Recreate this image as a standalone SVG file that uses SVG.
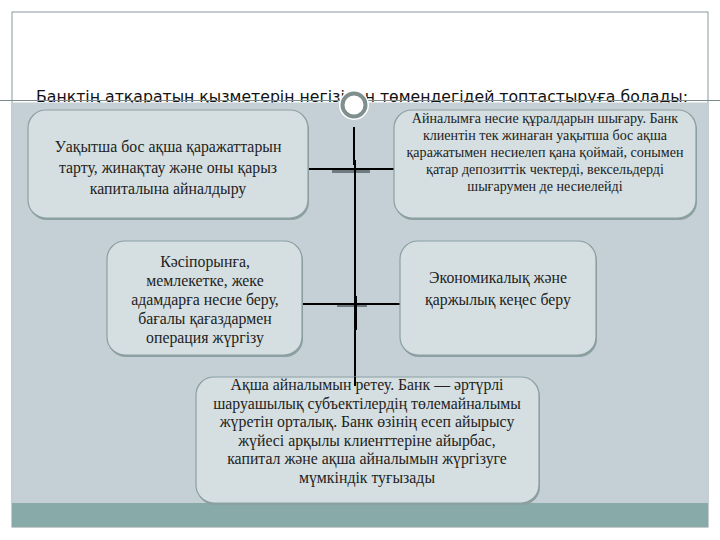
<svg xmlns="http://www.w3.org/2000/svg" width="720" height="540" viewBox="0 0 720 540">
<style>
.box{fill:#d5dfe1;stroke:#8b9fa2;stroke-width:1.2}
.sh{fill:#8c9fa1}
.t{font-family:"Liberation Serif","DejaVu Serif",serif;fill:#222;text-anchor:middle}
.conn{stroke:#000;stroke-width:2;fill:none}
</style>
<rect x="0" y="0" width="720" height="540" fill="#ffffff"/>
<rect x="12" y="12" width="696" height="515" fill="#ffffff" stroke="#8c9a9c" stroke-width="1"/>
<text x="36" y="101.5" font-family="DejaVu Sans, Verdana, sans-serif" font-size="15" fill="#111" textLength="652" lengthAdjust="spacingAndGlyphs">Банктің атқаратын қызметерін негізінен төмендегідей топтастыруға болады:</text>
<rect x="12.5" y="102.5" width="695.5" height="400.5" fill="#c5d0d6"/>
<rect x="12" y="503" width="696" height="24" fill="#88aaa8"/>
<line x1="0" y1="100.5" x2="720" y2="100.5" stroke="#7d8b8d" stroke-width="1"/>
<g id="ring">
<circle cx="354" cy="105" r="15" fill="#ffffff"/>
<circle cx="354" cy="105" r="11.5" fill="none" stroke="#7f8f8e" stroke-width="4"/>
</g>
<g id="connectors">
<rect x="332" y="169" width="38" height="4" fill="#6f7a7e"/>
<rect x="337" y="303" width="30" height="4" fill="#6f7a7e"/>
<line class="conn" x1="354" y1="127" x2="354" y2="165"/>
<line class="conn" x1="355" y1="160" x2="355" y2="386"/>
<line class="conn" x1="309" y1="169" x2="394" y2="169"/>
<line class="conn" x1="303" y1="304" x2="400" y2="304"/>
<line x1="355.5" y1="296" x2="355.5" y2="330" stroke="#000" stroke-width="3"/>
</g>
<g id="node1">
<rect class="sh" x="29" y="112" width="280" height="108" rx="18"/>
<rect class="box" x="28" y="110" width="280" height="108" rx="18"/>
<text class="t" font-size="15.8"><tspan x="168" y="152">Уақытша бос ақша қаражаттарын</tspan><tspan x="168" y="173">тарту, жинақтау және оны қарыз</tspan><tspan x="168" y="194">капиталына айналдыру</tspan></text>
</g>
<g id="node2">
<rect class="sh" x="395" y="112" width="302" height="108" rx="18"/>
<rect class="box" x="394" y="110" width="302" height="108" rx="18"/>
<text class="t" font-size="14.1"><tspan x="545" y="123">Айналымға несие құралдарын шығару. Банк</tspan><tspan x="545" y="140">клиентін тек жинаған уақытша бос ақша</tspan><tspan x="545" y="157">қаражатымен несиелеп қана қоймай, сонымен</tspan><tspan x="545" y="174">қатар депозиттік чектерді, вексельдерді</tspan><tspan x="545" y="191">шығарумен де несиелейді</tspan></text>
</g>
<g id="node3">
<rect class="sh" x="108" y="243" width="195" height="114" rx="18"/>
<rect class="box" x="107" y="241" width="195" height="114" rx="18"/>
<text class="t" font-size="15.8"><tspan x="205" y="267">Кәсіпорынға,</tspan><tspan x="205" y="286">мемлекетке, жеке</tspan><tspan x="205" y="305">адамдарға несие беру,</tspan><tspan x="205" y="324">бағалы қағаздармен</tspan><tspan x="205" y="343">операция жүргізу</tspan></text>
</g>
<g id="node4">
<rect class="sh" x="401" y="243" width="196" height="114" rx="18"/>
<rect class="box" x="400" y="241" width="196" height="114" rx="18"/>
<text class="t" font-size="15.8"><tspan x="498" y="283">Экономикалық және</tspan><tspan x="498" y="305">қаржылық кеңес беру</tspan></text>
</g>
<g id="node5">
<rect class="sh" x="197" y="379" width="343" height="126" rx="18"/>
<rect class="box" x="196" y="377" width="343" height="126" rx="18"/>
<line class="conn" x1="355" y1="377" x2="355" y2="386"/>
<text class="t" font-size="15.8"><tspan x="367" y="390">Ақша айналымын ретеу. Банк — әртүрлі</tspan><tspan x="367" y="408.5">шаруашылық субъектілердің төлемайналымы</tspan><tspan x="367" y="427">жүретін орталық. Банк өзінің есеп айырысу</tspan><tspan x="367" y="445.5">жүйесі арқылы клиенттеріне айырбас,</tspan><tspan x="367" y="464">капитал және ақша айналымын жүргізуге</tspan><tspan x="367" y="482.5">мүмкіндік туғызады</tspan></text>
</g>
</svg>
